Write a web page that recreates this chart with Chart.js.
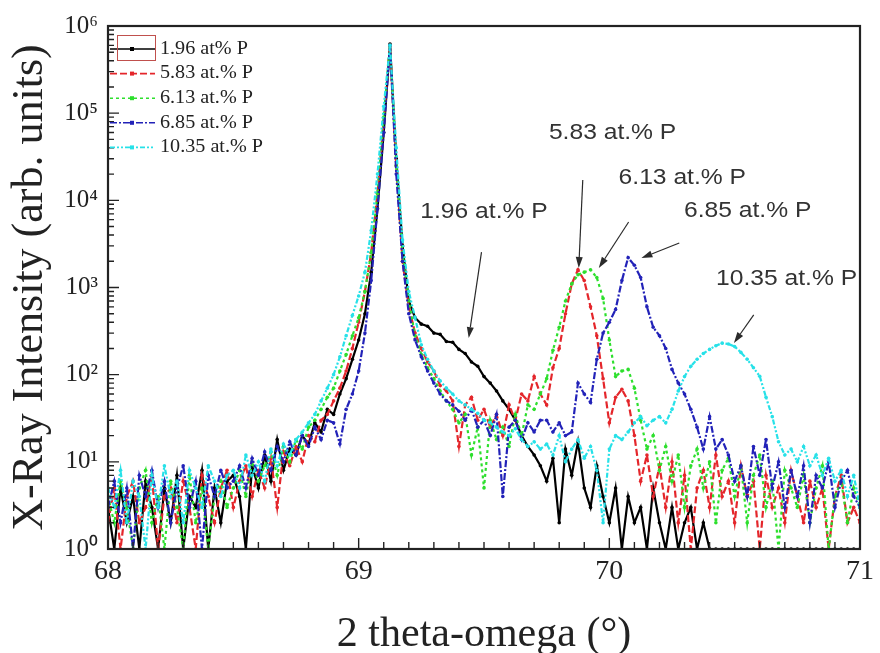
<!DOCTYPE html>
<html>
<head>
<meta charset="utf-8">
<title>XRD 2theta-omega scans</title>
<script src="https://cdn.jsdelivr.net/npm/chart.js@4.4.0/dist/chart.umd.min.js"></script>
<style>
  html, body { margin: 0; padding: 0; background: #fff; }
  #wrap { width: 880px; height: 653px; }
</style>
</head>
<body>
<div id="wrap"><canvas id="xrdChart" width="880" height="653"></canvas></div>
<script>
// Сетка скана 2theta: 68..71 градусов, шаг 0.025
const twoTheta = [];
for (let i = 0; i <= 120; i++) twoTheta.push(+(68 + i * 0.025).toFixed(3));

const seriesLabels = ['1.96 at% P', '5.83 at.% P', '6.13 at.% P', '6.85 at.% P', '10.35 at.% P'];

// Интенсивности (отн. ед.)
const p196 = [
  3, 1, 5, 2, 4, 1, 6, 3, 1, 5,
  2, 7, 1, 4, 3, 8, 1, 5, 2, 6,
  7, 4, 1, 9, 5, 12, 6, 18, 8, 14,
  12, 20, 16, 28, 22, 40, 35, 60, 90, 150,
  250, 500, 1500, 8000, 60000, 620000, 30000, 3000, 700, 450,
  380, 360, 300, 290, 240, 235, 195, 175, 140, 125,
  95, 80, 65, 50, 40, 30, 20, 15, 12, 9,
  6, 11, 2, 14, 7, 17, 5, 3, 9, 4,
  2, 5, 1, 4, 2, 3, 1, 5, 2, 1,
  3, 1, 2, 3, 1, 2, 1, 1, 1, 1,
  1, 1, 1, 1, 1, 1, 1, 1, 1, 1,
  1, 1, 1, 1, 1, 1, 1, 1, 1, 1,
  1
];
const p583 = [
  2, 5, 1, 4, 6, 2, 3, 7, 1, 4,
  5, 2, 6, 3, 1, 7, 4, 2, 5, 8,
  3, 6, 9, 4, 8, 5, 11, 3, 13, 9,
  15, 10, 20, 17, 30, 35, 50, 70, 110, 200,
  400, 900, 2500, 12000, 80000, 600000, 25000, 2000, 600, 300,
  200, 140, 110, 75, 65, 50, 15, 45, 55, 30,
  40, 25, 35, 20, 45, 30, 60, 50, 95, 60,
  45, 120, 200, 500, 1100, 1600, 1200, 600, 280, 90,
  28, 55, 68, 50, 20, 6, 12, 4, 9, 3,
  10, 2, 7, 1, 5, 8, 3, 12, 4, 6,
  2, 9, 4, 6, 1, 7, 3, 5, 2, 8,
  4, 2, 6, 3, 5, 1, 4, 7, 2, 3,
  2
];
const p613 = [
  4, 2, 6, 3, 1, 5, 8, 2, 4, 1,
  6, 3, 1, 7, 2, 5, 1, 4, 6, 3,
  5, 8, 4, 10, 6, 9, 13, 7, 15, 10,
  18, 14, 25, 30, 40, 55, 70, 110, 170, 280,
  450, 900, 2500, 12000, 90000, 600000, 25000, 2500, 700, 280,
  170, 120, 90, 65, 50, 40, 28, 35, 12, 25,
  5, 30, 18, 25, 15, 35, 20, 45, 40, 60,
  90, 190, 350, 700, 1100, 1400, 1500, 1600, 1300, 750,
  250, 95, 110, 115, 70, 30, 14, 20, 8, 15,
  6, 12, 3, 9, 14, 5, 10, 2, 8, 11,
  4, 9, 2, 7, 12, 3, 6, 1, 8, 5,
  3, 7, 2, 5, 9, 1, 4, 6, 2, 5,
  3
];
const p685 = [
  3, 6, 2, 5, 1, 7, 4, 8, 3, 6,
  2, 5, 9, 3, 6, 1, 7, 4, 8, 5,
  6, 9, 5, 11, 7, 13, 8, 15, 10, 17,
  12, 20, 15, 25, 18, 30, 28, 16, 40, 60,
  110, 300, 1200, 8000, 60000, 600000, 20000, 2000, 500, 250,
  160, 110, 80, 60, 50, 45, 38, 30, 40, 25,
  30, 20, 35, 4, 25, 30, 18, 28, 22, 30,
  30, 22, 28, 20, 22, 80, 60, 48, 150, 300,
  400, 560, 1200, 2200, 1800, 1300, 600, 350, 280, 200,
  115, 80, 60, 40, 25, 14, 33, 14, 18, 12,
  6, 9, 4, 15, 7, 18, 5, 10, 3, 8,
  4, 9, 2, 7, 5, 10, 3, 6, 8, 4,
  3
];
const p1035 = [
  5, 3, 8, 2, 6, 4, 1, 7, 3, 9,
  4, 6, 2, 8, 5, 3, 9, 6, 4, 7,
  8, 5, 12, 7, 10, 6, 14, 9, 16, 12,
  18, 22, 28, 35, 50, 70, 100, 160, 280, 480,
  800, 1500, 4500, 20000, 120000, 600000, 40000, 3500, 900, 450,
  220, 150, 110, 85, 70, 60, 50, 45, 40, 36,
  30, 28, 25, 22, 20, 24, 18, 15, 17, 14,
  16, 12, 20, 10, 14, 18, 11, 15, 8, 2,
  14, 20, 18, 22, 28, 33, 26, 30, 33, 28,
  40, 65, 95, 125, 150, 175, 195, 215, 230, 225,
  210, 180, 150, 120, 96, 55, 33, 17, 12, 14,
  10, 15, 9, 12, 7, 11, 6, 8, 4, 7,
  3
];

const xTickValues = [68, 69, 70, 71];
const superDigits = ['\u2070', '\u00b9', '\u00b2', '\u00b3', '\u2074', '\u2075', '\u2076'];

// Подписи пиков и стрелки (в координатах данных)
const noteText = ['1.96 at.% P', '5.83 at.% P', '6.13 at.% P', '6.85 at.% P', '10.35 at.% P'];
const noteX = [69.50, 70.013, 70.291, 70.552, 70.707];
const noteY = [7350, 59200, 18000, 7540, 1250];
const arrowFromX = [69.490, 69.894, 70.077, 70.279, 70.576];
const arrowFromY = [2550, 17100, 5640, 3240, 484];
const arrowToX = [69.439, 69.878, 69.958, 70.128, 70.497];
const arrowToY = [263, 1675, 1675, 2180, 231];

const lineStyles = [
  { color: '#000000', dash: [] },
  { color: '#e4262b', dash: [7, 3] },
  { color: '#2ddf2d', dash: [3, 3] },
  { color: '#2222b8', dash: [7, 2, 2, 2] },
  { color: '#27e1e8', dash: [5, 2, 2, 2, 2, 2] }
];

const allSeries = [p196, p583, p613, p685, p1035];
const datasets = allSeries.map((vals, k) => ({
  label: seriesLabels[k],
  data: vals.map((v, i) => ({ x: twoTheta[i], y: v })),
  borderColor: lineStyles[k].color,
  backgroundColor: lineStyles[k].color,
  borderDash: lineStyles[k].dash,
  borderWidth: 2.2,
  pointRadius: 1.8,
  pointBorderWidth: 0,
  pointHoverRadius: 0,
  tension: 0,
  order: 4 - k
}));

// Рамка и внутренние засечки осей
const axisFrame = {
  id: 'axisFrame',
  afterDatasetsDraw(chart) {
    const { ctx, chartArea: a, scales: { x, y } } = chart;
    ctx.save();
    ctx.strokeStyle = '#222';
    ctx.lineWidth = 1.4;
    ctx.beginPath();
    for (let k = 0; k <= 30; k++) {
      const px = x.getPixelForValue(68 + k / 10);
      const len = k % 10 === 0 ? 11 : 7;
      ctx.moveTo(px, a.bottom);
      ctx.lineTo(px, a.bottom - len);
    }
    for (let d = 0; d < 6; d++) {
      for (let m = 1; m <= 9; m++) {
        const py = y.getPixelForValue(m * Math.pow(10, d));
        ctx.moveTo(a.left, py);
        ctx.lineTo(a.left + (m === 1 ? 11 : 6), py);
      }
    }
    ctx.stroke();
    ctx.lineWidth = 2.2;
    ctx.strokeRect(a.left, a.top, a.right - a.left, a.bottom - a.top);
    ctx.restore();
  }
};

// Легенда внутри поля графика
const insetLegend = {
  id: 'insetLegend',
  afterDraw(chart) {
    const { ctx, chartArea: a } = chart;
    ctx.save();
    chart.data.datasets.forEach((ds, k) => {
      const yy = a.top + 23 + k * 24.6;
      ctx.strokeStyle = ds.borderColor;
      ctx.lineWidth = 1.6;
      ctx.setLineDash(ds.borderDash);
      ctx.beginPath();
      ctx.moveTo(a.left + 2, yy);
      ctx.lineTo(a.left + 47, yy);
      ctx.stroke();
      ctx.setLineDash([]);
      ctx.fillStyle = ds.borderColor;
      ctx.fillRect(a.left + 22, yy - 2, 4, 4);
      ctx.fillStyle = '#222';
      ctx.font = '18px "Liberation Serif"';
      ctx.textAlign = 'left';
      ctx.textBaseline = 'middle';
      ctx.save();
      ctx.translate(a.left + 52, yy);
      ctx.scale(1.12, 1);
      ctx.fillText(ds.label, 0, 0);
      ctx.restore();
    });
    ctx.strokeStyle = '#c0504d';
    ctx.lineWidth = 1;
    ctx.strokeRect(a.left + 9.5, a.top + 9.5, 38, 25);
    ctx.restore();
  }
};

// Стрелки и подписи пиков
const peakNotes = {
  id: 'peakNotes',
  afterDraw(chart) {
    const { ctx, scales: { x, y } } = chart;
    ctx.save();
    ctx.strokeStyle = '#2b2b2b';
    ctx.fillStyle = '#2b2b2b';
    ctx.lineWidth = 1.2;
    for (let k = 0; k < noteText.length; k++) {
      const x0 = x.getPixelForValue(arrowFromX[k]), y0 = y.getPixelForValue(arrowFromY[k]);
      const x1 = x.getPixelForValue(arrowToX[k]), y1 = y.getPixelForValue(arrowToY[k]);
      const ang = Math.atan2(y1 - y0, x1 - x0);
      const head = 11, half = 3.5;
      const bx = x1 - head * Math.cos(ang), by = y1 - head * Math.sin(ang);
      ctx.beginPath();
      ctx.moveTo(x0, y0);
      ctx.lineTo(bx, by);
      ctx.stroke();
      ctx.beginPath();
      ctx.moveTo(x1, y1);
      ctx.lineTo(bx + half * Math.sin(ang), by - half * Math.cos(ang));
      ctx.lineTo(bx - half * Math.sin(ang), by + half * Math.cos(ang));
      ctx.closePath();
      ctx.fill();
    }
    ctx.fillStyle = '#333';
    ctx.font = '22px "Liberation Sans"';
    ctx.textAlign = 'center';
    ctx.textBaseline = 'middle';
    for (let k = 0; k < noteText.length; k++) {
      ctx.save();
      ctx.translate(x.getPixelForValue(noteX[k]), y.getPixelForValue(noteY[k]));
      ctx.scale(1.12, 1);
      ctx.fillText(noteText[k], 0, 0);
      ctx.restore();
    }
    ctx.restore();
  }
};

const ctx = document.getElementById('xrdChart').getContext('2d');
new Chart(ctx, {
  type: 'line',
  data: { datasets: datasets },
  options: {
    responsive: false,
    animation: false,
    devicePixelRatio: 1,
    layout: { padding: { top: 26, right: 15, left: 0, bottom: 0 } },
    plugins: {
      legend: { display: false },
      tooltip: { enabled: false }
    },
    scales: {
      x: {
        type: 'linear',
        min: 68,
        max: 71,
        grid: { display: false, drawTicks: false },
        border: { display: false },
        afterBuildTicks(scale) {
          scale.ticks = xTickValues.map(v => ({ value: v }));
        },
        ticks: {
          padding: 6,
          color: '#222',
          font: { family: 'Liberation Serif', size: 28 },
          callback: v => String(v)
        },
        title: {
          display: true,
          text: '2 theta-omega (\u00b0)',
          color: '#222',
          font: { family: 'Liberation Serif', size: 42, lineHeight: 1 },
          padding: { top: 0, bottom: -3 }
        },
        afterFit(scale) { scale.height = 104; }
      },
      y: {
        type: 'logarithmic',
        min: 1,
        max: 1e6,
        grid: { display: false, drawTicks: false },
        border: { display: false },
        ticks: {
          autoSkip: false,
          padding: 10,
          color: '#222',
          font: { family: 'Liberation Serif', size: 25 },
          callback: v => {
            const e = Math.round(Math.log10(v));
            return Math.abs(Math.log10(v) - e) < 1e-6 ? '10' + superDigits[e] : '';
          }
        },
        title: {
          display: true,
          text: 'X-Ray Intensity (arb. units)',
          color: '#222',
          font: { family: 'Liberation Serif', size: 44, lineHeight: 1 },
          padding: { top: 8, bottom: 0 }
        },
        afterFit(scale) { scale.width = 108; }
      }
    }
  },
  plugins: [axisFrame, insetLegend, peakNotes]
});
</script>
</body>
</html>
